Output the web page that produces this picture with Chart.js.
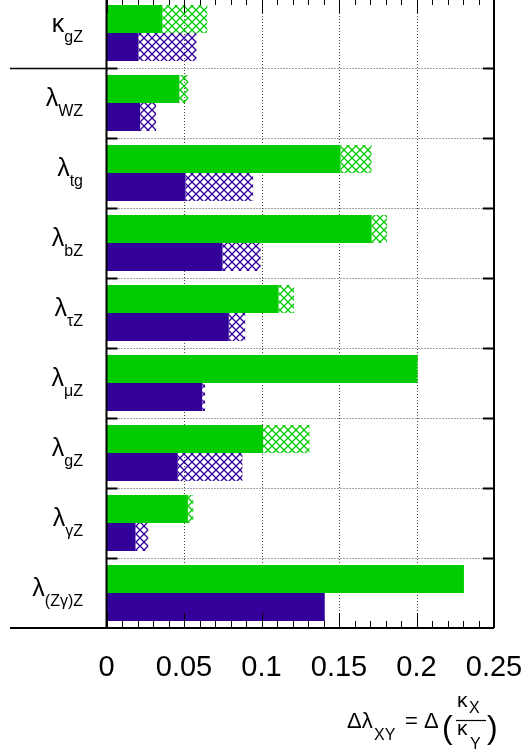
<!DOCTYPE html>
<html>
<head>
<meta charset="utf-8">
<script src="https://cdn.jsdelivr.net/npm/chart.js@4/dist/chart.umd.min.js"></script>
<style>
html, body { margin: 0; padding: 0; background: #fff; overflow: hidden; }
#wrap { position: absolute; left: 0; top: -2px; width: 524px; height: 755px; }
</style>
</head>
<body>
<div id="wrap"><canvas id="chart" width="524" height="755"></canvas></div>
<script>
const labelMain = ['κ', 'λ', 'λ', 'λ', 'λ', 'λ', 'λ', 'λ', 'λ']
const labelSub = ['gZ', 'WZ', 'tg', 'bZ', 'τZ', 'μZ', 'gZ', 'γZ', '(Zγ)Z']
const greenSolid = [0.036, 0.047, 0.151, 0.171, 0.111, 0.2005, 0.101, 0.0525, 0.2306]
const greenTotal = [0.065, 0.0527, 0.171, 0.181, 0.121, 0.201, 0.131, 0.056, 0.2306]
const purpleSolid = [0.0206, 0.0217, 0.051, 0.0748, 0.0789, 0.0617, 0.046, 0.0187, 0.1408]
const purpleTotal = [0.058, 0.032, 0.0946, 0.0994, 0.0895, 0.0636, 0.0877, 0.0269, 0.1408]
const tickValues = [0, 0.05, 0.1, 0.15, 0.2, 0.25]
const tickLabels = ['0', '0.05', '0.1', '0.15', '0.2', '0.25']

const GREEN = '#00cc00'
const PURPLE = '#330099'
const FONT = '"Liberation Sans", Arial, "DejaVu Sans", sans-serif'

function hatch(color){
    const c = document.createElement('canvas')
    c.width = 8
    c.height = 8
    const g = c.getContext('2d')
    g.strokeStyle = color
    g.lineWidth = 1.3
    g.beginPath()
    g.moveTo(0, 0); g.lineTo(8, 8)
    g.moveTo(8, 0); g.lineTo(0, 8)
    g.stroke()
    return g.createPattern(c, 'repeat')
}

const diff = (a, b) => a.map((v, i) => Math.max(0, v - b[i]))

// grid, frame, ticks and all texts
const decor = {
    id: 'decor',
    beforeDatasetsDraw(chart){
        const ctx = chart.ctx
        const a = chart.chartArea
        const xs = chart.scales.x
        const ys = chart.scales.y
        ctx.save()
        ctx.strokeStyle = '#444'
        ctx.lineWidth = 1
        ctx.setLineDash([1, 2])
        for (let i = 1; i < tickValues.length - 1; i++){
            const x = Math.round(xs.getPixelForValue(tickValues[i])) + 0.5
            ctx.beginPath(); ctx.moveTo(x, a.top); ctx.lineTo(x, a.bottom); ctx.stroke()
        }
        for (let i = 0; i < labelSub.length - 1; i++){
            const y = Math.round((ys.getPixelForValue(i) + ys.getPixelForValue(i + 1)) / 2) + 0.5
            ctx.beginPath(); ctx.moveTo(a.left, y); ctx.lineTo(a.right, y); ctx.stroke()
        }
        ctx.restore()
    },
    afterDatasetsDraw(chart){
        const ctx = chart.ctx
        const a = chart.chartArea
        const xs = chart.scales.x
        const ys = chart.scales.y
        ctx.save()
        ctx.strokeStyle = '#000'
        // minor / major ticks top and bottom
        ctx.lineWidth = 1
        for (let i = 0; i <= 25; i++){
            const x = Math.round(xs.getPixelForValue(i / 100)) + 0.5
            const len = i % 5 == 0 ? 15 : 7
            ctx.beginPath()
            ctx.moveTo(x, a.top); ctx.lineTo(x, a.top + len)
            ctx.moveTo(x, a.bottom); ctx.lineTo(x, a.bottom - len)
            ctx.stroke()
        }
        // row ticks left and right
        ctx.lineWidth = 2
        for (let i = 0; i < labelSub.length - 1; i++){
            const y = Math.round((ys.getPixelForValue(i) + ys.getPixelForValue(i + 1)) / 2) + 0.5
            ctx.beginPath()
            ctx.moveTo(a.left, y); ctx.lineTo(a.left + 11, y)
            ctx.moveTo(a.right - 11, y); ctx.lineTo(a.right, y)
            ctx.stroke()
            if (i == 0){
                ctx.lineWidth = 1.5
                ctx.beginPath(); ctx.moveTo(10, y); ctx.lineTo(a.left, y); ctx.stroke()
                ctx.lineWidth = 2
            }
        }
        // frame
        ctx.beginPath()
        ctx.moveTo(a.left, a.top); ctx.lineTo(a.left, a.bottom)
        ctx.moveTo(a.right, a.top); ctx.lineTo(a.right, a.bottom)
        ctx.moveTo(a.left, a.top); ctx.lineTo(a.right, a.top)
        ctx.moveTo(10, a.bottom); ctx.lineTo(a.right, a.bottom)
        ctx.stroke()

        // x tick labels
        ctx.fillStyle = '#000'
        ctx.font = '29px ' + FONT
        ctx.textAlign = 'center'
        ctx.textBaseline = 'alphabetic'
        for (let i = 0; i < tickValues.length; i++){
            ctx.fillText(tickLabels[i], xs.getPixelForValue(tickValues[i]), a.bottom + 48)
        }

        // category labels with subscripts
        ctx.textAlign = 'left'
        for (let i = 0; i < labelSub.length; i++){
            const cy = ys.getPixelForValue(i)
            const shift = labelMain[i] == 'κ' ? -4 : 0
            ctx.font = '25px ' + FONT
            const w1 = ctx.measureText(labelMain[i]).width
            ctx.font = '16px ' + FONT
            const w2 = ctx.measureText(labelSub[i]).width
            const x0 = 83 - w1 - w2
            ctx.font = '25px ' + FONT
            ctx.fillText(labelMain[i], x0, cy + 3 + shift)
            ctx.font = '16px ' + FONT
            ctx.fillText(labelSub[i], x0 + w1, cy + 13 + shift)
        }

        // axis title  Δλ_XY = Δ(κ_X / κ_Y)
        const b = a.bottom
        ctx.font = '22px ' + FONT
        ctx.fillText('Δλ', 347, b + 100)
        ctx.font = '16px ' + FONT
        ctx.fillText('XY', 374, b + 112)
        ctx.font = '22px ' + FONT
        ctx.fillText('=', 405, b + 100)
        ctx.fillText('Δ', 424, b + 100)
        ctx.font = '32px ' + FONT
        ctx.fillText('(', 442, b + 110)
        ctx.fillText(')', 487, b + 110)
        ctx.font = '21px ' + FONT
        ctx.fillText('κ', 457, b + 79)
        ctx.fillText('κ', 457, b + 107)
        ctx.font = '16px ' + FONT
        ctx.fillText('X', 469, b + 85)
        ctx.fillText('Y', 470, b + 121)
        ctx.lineWidth = 1.2
        ctx.beginPath(); ctx.moveTo(456, b + 92.5); ctx.lineTo(486, b + 92.5); ctx.stroke()
        ctx.restore()
    }
}

new Chart(document.getElementById('chart').getContext('2d'), {
    type: 'bar',
    data: {
        labels: labelSub,
        datasets: [
            { data: greenSolid, stack: 'g', backgroundColor: GREEN, borderWidth: 0 },
            { data: diff(greenTotal, greenSolid), stack: 'g', backgroundColor: hatch(GREEN), borderWidth: 0 },
            { data: purpleSolid, stack: 'p', backgroundColor: PURPLE, borderWidth: 0 },
            { data: diff(purpleTotal, purpleSolid), stack: 'p', backgroundColor: hatch(PURPLE), borderWidth: 0 }
        ]
    },
    options: {
        indexAxis: 'y',
        responsive: false,
        animation: false,
        devicePixelRatio: 1,
        categoryPercentage: 0.8,
        barPercentage: 1.0,
        layout: { padding: { left: 106.5, right: 30, top: 0, bottom: 125 } },
        plugins: { legend: { display: false }, tooltip: { enabled: false } },
        scales: {
            x: {
                stacked: true, min: 0, max: 0.25,
                grid: { display: false, drawTicks: false },
                border: { display: false },
                ticks: { display: false }
            },
            y: {
                stacked: true,
                grid: { display: false, drawTicks: false },
                border: { display: false },
                ticks: { display: false }
            }
        }
    },
    plugins: [decor]
})
</script>
</body>
</html>
